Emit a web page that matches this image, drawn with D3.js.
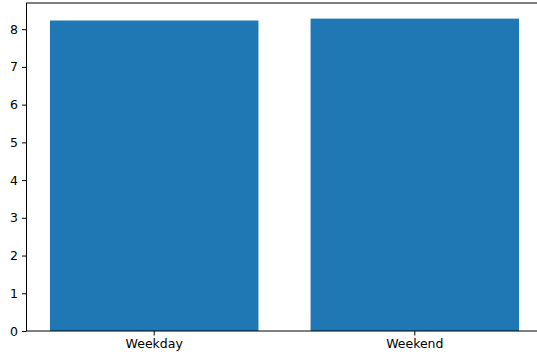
<!DOCTYPE html>
<html lang="en">
<head>
<meta charset="utf-8">
<script src="https://d3js.org/d3.v7.min.js"></script>
<style>
  body { margin: 0; background: #fff; }
  text { font-family: "DejaVu Sans", sans-serif; }
</style>
</head>
<body>
<script type="text/javascript">

var categories = ["Weekday", "Weekend"];
var values = [8.23, 8.28];
var yTicks = [0, 1, 2, 3, 4, 5, 6, 7, 8];

var W = 537, H = 358;
var mLeft = 26.5, mRight = 542.5, mTop = 3, mBottom = 331;

var svg = d3.select("body")
  .append("svg")
  .attr("width", W)
  .attr("height", H);

var x = d3.scaleBand()
  .domain(categories)
  .range([mLeft, mRight])
  .paddingInner(0.2)
  .paddingOuter(0.09);

var y = d3.scaleLinear()
  .domain([0, d3.max(values) * 1.05])
  .range([mBottom, mTop]);

var data = categories.map(function (c, i) { return {cat: c, v: values[i]}; });

svg.selectAll("rect.bar")
  .data(data)
  .enter()
  .append("rect")
  .attr("class", "bar")
  .attr("x", d => x(d.cat))
  .attr("width", x.bandwidth())
  .attr("y", d => y(d.v))
  .attr("height", d => y(0) - y(d.v))
  .attr("fill", "#1f77b4");

// frame
svg.append("rect")
  .attr("x", mLeft)
  .attr("y", mTop)
  .attr("width", mRight - mLeft)
  .attr("height", mBottom - mTop)
  .attr("fill", "none")
  .attr("stroke", "#000")
  .attr("stroke-width", 1);

var yAxis = svg.append("g")
  .attr("transform", "translate(" + mLeft + ",0)")
  .call(d3.axisLeft(y).tickValues(yTicks).tickSize(4.5).tickPadding(4).tickFormat(d3.format("d")));

var xAxis = svg.append("g")
  .attr("transform", "translate(0," + mBottom + ")")
  .call(d3.axisBottom(x).tickSize(4.5).tickPadding(4));

[xAxis, yAxis].forEach(function (g) {
  g.select(".domain").remove();
  g.selectAll("line").attr("stroke", "#000").attr("stroke-width", 1);
  g.selectAll("text")
    .attr("fill", "#000")
    .style("font-family", "'DejaVu Sans', sans-serif")
    .style("font-size", "12.5px");
});

</script>
</body>
</html>
